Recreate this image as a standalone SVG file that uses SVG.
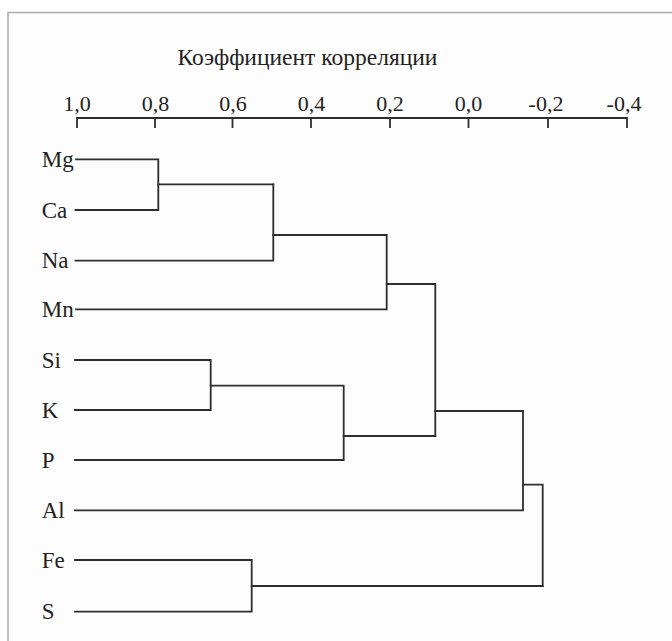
<svg xmlns="http://www.w3.org/2000/svg" width="672" height="641" viewBox="0 0 672 641">
<style>
text{font-family:"Liberation Serif","Times New Roman",serif;fill:#222}
.t{text-anchor:middle;font-size:22px}
.n{font-size:23px}
.h{font-size:23.5px;text-anchor:middle}
.ln{fill:none;stroke:#2e2e2e;stroke-width:1.8;stroke-linejoin:miter;stroke-linecap:square}
</style>
<rect x="0" y="0" width="672" height="641" fill="#ffffff"/>
<rect x="8" y="12.5" width="664" height="629" fill="#fdfdfd"/>
<path d="M8,641 V12.5 H672" fill="none" stroke="#ababab" stroke-width="1.5"/>
<g id="title"><text class="h" x="307.5" y="65">Коэффициент корреляции</text></g>
<g id="axis">
<path class="ln" d="M77,118 H627 M77,118 V127 M155,118 V127 M232.5,118 V127 M311,118 V127 M390,118 V127 M468.5,118 V127 M548,118 V127 M627,118 V127"/>
<text class="t" x="77" y="111">1,0</text>
<text class="t" x="155.5" y="111">0,8</text>
<text class="t" x="233" y="111">0,6</text>
<text class="t" x="311.5" y="111">0,4</text>
<text class="t" x="390" y="111">0,2</text>
<text class="t" x="468.5" y="111">0,0</text>
<text class="t" x="546" y="111">-0,2</text>
<text class="t" x="624" y="111">-0,4</text>
</g>
<g id="node-Mg"><text class="n" x="41.7" y="167">Mg</text></g>
<g id="node-Ca"><text class="n" x="41.7" y="217.5">Ca</text></g>
<g id="node-Na"><text class="n" x="41.7" y="268.2">Na</text></g>
<g id="node-Mn"><text class="n" x="41.7" y="316.8">Mn</text></g>
<g id="node-Si"><text class="n" x="41.7" y="367.5">Si</text></g>
<g id="node-K"><text class="n" x="41.7" y="417.5">K</text></g>
<g id="node-P"><text class="n" x="41.7" y="467.5">P</text></g>
<g id="node-Al"><text class="n" x="41.7" y="517.8">Al</text></g>
<g id="node-Fe"><text class="n" x="41.7" y="567.5">Fe</text></g>
<g id="node-S"><text class="n" x="41.7" y="619.2">S</text></g>
<g id="connectors">
<path class="ln" d="M76,159.3 H158.3 V210 H75.5"/>
<path class="ln" d="M158.3,184.3 H273.3"/>
<path class="ln" d="M75.5,260.7 H273.3 V184.3"/>
<path class="ln" d="M273.3,235 H386.7 V309.3 H76"/>
<path class="ln" d="M386.7,284 H435.3 V436"/>
<path class="ln" d="M75,360 H210.7 V410 H75"/>
<path class="ln" d="M210.7,385.7 H343.7 V460 H75"/>
<path class="ln" d="M343.7,436 H435.3"/>
<path class="ln" d="M435.3,411 H523 V510.3 H75"/>
<path class="ln" d="M523,484.7 H542.7 V586"/>
<path class="ln" d="M75,560 H251.7 V611.7 H75"/>
<path class="ln" d="M251.7,586 H542.7"/>
</g>
</svg>
